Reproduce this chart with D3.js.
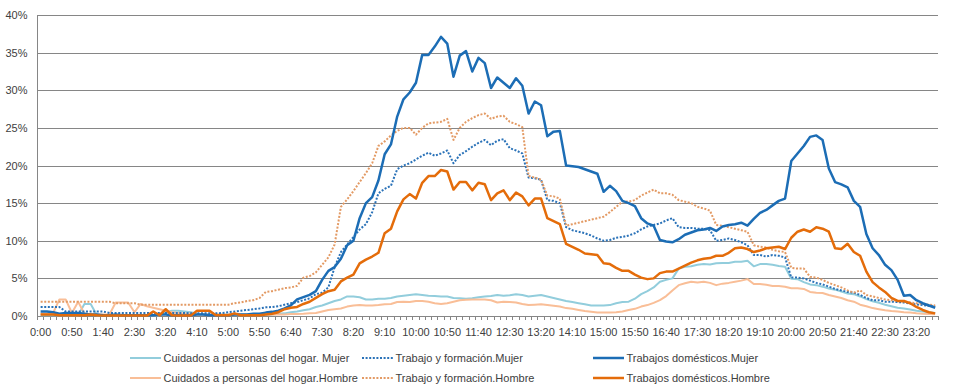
<!DOCTYPE html>
<html><head><meta charset="utf-8">
<script src="https://cdn.jsdelivr.net/npm/d3@7/dist/d3.min.js"></script>
<style>
html,body{margin:0;padding:0;background:#fff;}
svg text{font-family:"Liberation Sans",Arial,sans-serif;fill:#404040;}
</style></head>
<body>
<svg id="c" width="954" height="386"></svg>
<script>
// ---- DATA ----
const categories = d3.range(144).map(i => Math.floor(i/6) + ":" + String((i%6)*10).padStart(2,"0"));
const tickLabels = ["0:00","0:50","1:40","2:30","3:20","4:10","5:00","5:50","6:40","7:30","8:20","9:10","10:00","10:50","11:40","12:30","13:20","14:10","15:00","15:50","16:40","17:30","18:20","19:10","20:00","20:50","21:40","22:30","23:20"];
const yTicks = [0,5,10,15,20,25,30,35,40];

const cuidadosMujer = [
0.1,0.1,0.1,0.1,0.1,0.1,0.1,1.6,1.6,0.1,
0.1,0.1,0.1,0.1,0.1,0.1,0.1,0.1,0.1,0.1,
0.5,0.7,0.7,0.6,0.5,0.3,0.2,0.2,0.2,0.2,
0.15,0.15,0.15,0.15,0.15,0.15,0.15,0.2,0.3,0.35,
0.5,0.6,0.75,0.9,1.2,1.4,1.7,2.0,2.2,2.6,
2.6,2.5,2.2,2.2,2.3,2.3,2.4,2.6,2.7,2.8,
2.9,2.8,2.7,2.65,2.6,2.6,2.4,2.35,2.3,2.35,
2.5,2.6,2.65,2.8,2.7,2.75,2.9,2.8,2.6,2.7,
2.8,2.6,2.4,2.2,2.0,1.85,1.7,1.55,1.4,1.4,
1.4,1.45,1.7,1.85,1.9,2.3,2.9,3.3,3.8,4.55,
4.8,5.0,6.3,6.55,6.6,6.8,6.9,6.85,7.0,7.05,
7.05,7.2,7.2,7.35,6.6,6.9,6.9,6.8,6.65,6.55,
4.95,4.9,4.5,4.2,4.1,3.9,3.65,3.5,3.25,3.0,
2.9,2.6,2.25,1.95,1.75,1.5,1.3,1.1,1.0,0.85,
0.7,0.6,0.5,0.4];

const cuidadosHombre = [
0.3,0.3,0.4,2.2,2.2,0.4,1.9,0.3,0.2,0.2,
0.2,0.2,1.8,1.8,1.8,0.5,1.6,1.3,1.1,0.9,
0.7,0.5,0.4,0.3,0.3,0.2,0.2,0.2,0.2,0.2,
0.2,0.2,0.2,0.2,0.2,0.2,0.2,0.2,0.2,0.2,
0.25,0.27,0.3,0.35,0.4,0.6,0.8,0.9,1.0,1.25,
1.4,1.45,1.4,1.4,1.45,1.55,1.6,1.85,1.9,1.85,
2.0,2.0,1.9,1.7,1.6,1.7,1.9,2.1,2.15,2.2,
2.2,2.2,2.1,1.8,1.9,1.85,1.8,1.6,1.45,1.5,
1.55,1.45,1.35,1.25,1.05,0.95,0.8,0.65,0.55,0.45,
0.45,0.45,0.5,0.6,0.8,0.95,1.25,1.45,1.75,2.1,
2.65,3.4,4.1,4.35,4.55,4.45,4.55,4.4,4.1,4.3,
4.4,4.55,4.7,4.9,4.25,4.25,4.15,4.0,4.0,3.9,
3.7,3.7,3.6,3.2,3.1,3.05,2.8,2.6,2.4,2.1,
1.9,1.5,1.3,1.05,0.9,0.75,0.65,0.6,0.5,0.45,
0.35,0.3,0.27,0.23];

const trabajoMujer = [
1.2,1.2,1.2,1.2,0.6,0.6,0.6,0.6,0.6,0.6,
0.6,0.4,0.4,0.4,0.4,0.4,0.4,0.4,0.4,0.4,
0.4,0.4,0.4,0.4,0.35,0.35,0.35,0.35,0.35,0.4,
0.5,0.6,0.7,0.8,0.9,1.0,1.15,1.2,1.3,1.5,
1.7,1.85,2.1,2.35,2.9,3.1,3.8,6.5,8.5,9.5,
10.5,11.5,12.2,13.8,16.3,16.9,17.3,19.5,20.0,20.3,
20.8,21.3,21.7,21.3,21.6,22.0,20.3,21.4,21.9,22.5,
23.0,23.4,22.7,23.3,23.5,22.3,22.0,21.6,18.4,18.3,
18.1,15.4,15.3,15.0,11.8,11.4,11.2,11.0,10.7,10.3,
10.0,10.1,10.4,10.5,10.7,11.0,11.5,11.9,12.1,12.3,
12.7,13.0,11.8,11.7,11.7,11.6,11.6,11.4,10.0,10.1,
10.3,10.1,9.8,9.4,8.1,8.1,7.9,8.1,8.0,7.8,
5.1,5.1,5.0,4.7,4.4,4.2,3.9,3.6,3.4,3.2,
3.1,2.8,2.4,2.1,2.1,1.9,1.9,1.85,1.8,1.65,
1.55,1.45,1.35,1.25];

const trabajoHombre = [
1.9,1.9,1.9,1.9,1.9,1.9,1.9,1.9,1.9,1.9,
1.9,1.9,1.7,1.7,1.7,1.7,1.5,1.5,1.5,1.5,
1.5,1.5,1.5,1.5,1.5,1.5,1.5,1.5,1.5,1.5,
1.5,1.7,1.8,2.0,2.1,2.4,3.2,3.3,3.5,3.7,
3.8,4.0,5.1,5.3,5.8,6.8,7.8,9.5,14.5,15.5,
16.6,17.8,19.0,20.3,22.6,23.2,24.0,24.6,25.0,25.0,
24.1,25.0,25.6,25.7,25.8,26.2,23.4,25.0,25.8,26.3,
26.7,26.9,26.2,26.5,26.6,25.8,25.5,25.1,18.6,18.4,
18.1,16.0,15.9,15.6,12.0,12.2,12.4,12.6,12.8,13.0,
13.2,13.8,14.5,15.2,15.2,15.4,16.0,16.4,16.8,16.3,
16.3,16.1,15.4,15.2,15.0,14.5,14.3,14.0,12.1,12.0,
11.8,11.6,11.4,11.2,9.4,9.2,9.1,8.8,8.6,8.5,
6.4,6.3,6.3,5.2,5.1,4.8,4.4,4.1,3.8,3.4,
3.1,3.4,2.8,2.6,2.4,2.2,2.1,2.0,1.9,1.8,
1.7,1.6,1.5,1.4];

const domesticosMujer = [
0.6,0.6,0.5,0.3,0.4,0.4,0.4,0.3,0.2,0.2,
0.1,0.1,0.2,0.1,0.1,0.1,0.1,0.1,0.1,0.2,
0.2,0.1,0.1,0.1,0.1,0.2,0.2,0.1,0.1,0.1,
0.1,0.2,0.2,0.2,0.3,0.3,0.45,0.55,0.7,1.0,
1.4,2.2,2.5,2.8,3.3,4.8,6.0,6.5,7.6,9.4,
10.0,13.0,15.0,15.8,18.0,21.5,22.8,26.5,28.8,29.7,
31.0,34.7,34.7,35.8,37.1,36.2,31.8,34.6,35.2,32.5,
34.3,33.6,30.3,31.7,31.0,30.3,31.6,30.6,26.9,28.5,
28.0,23.9,24.5,24.6,20.0,19.9,19.8,19.5,19.2,18.9,
16.5,17.3,16.6,15.3,15.0,14.6,13.0,12.3,12.0,10.1,
9.9,9.8,10.2,10.8,11.1,11.4,11.5,11.7,11.3,11.9,
12.1,12.2,12.4,12.0,12.9,13.7,14.1,14.7,15.3,15.6,
20.6,21.6,22.6,23.8,24.0,23.4,19.6,17.8,17.5,17.1,
15.3,14.5,10.9,9.0,8.1,6.8,6.1,4.8,2.7,2.8,
2.1,1.7,1.4,1.1];

const domesticosHombre = [
0.2,0.2,0.2,0.1,0.1,0.1,0.1,0.1,0.2,0.1,
0.05,0.05,0.05,0.05,0.05,0.05,0.05,0.05,0.6,0.1,
0.9,0.1,0.05,0.05,0.05,0.7,0.7,0.7,0.1,0.1,
0.1,0.35,0.1,0.1,0.1,0.1,0.2,0.3,0.5,0.9,
1.1,1.2,1.6,1.9,2.4,2.9,3.3,3.5,4.6,5.1,
5.5,7.0,7.5,7.9,8.4,11.0,11.6,13.9,15.5,16.2,
15.6,17.7,18.6,18.6,19.4,19.2,16.8,17.8,17.8,16.7,
17.7,17.5,15.4,16.3,16.7,15.4,16.4,15.9,14.7,15.6,
15.6,13.0,12.6,12.2,9.6,9.2,8.8,8.3,8.2,8.1,
7.0,6.9,6.4,6.0,6.0,5.5,5.1,4.9,5.0,5.7,
5.9,5.9,6.3,6.7,7.1,7.4,7.6,7.7,8.0,8.0,
8.4,9.0,9.1,8.9,8.5,8.7,9.0,9.1,9.2,8.9,
10.4,11.2,11.5,11.2,11.8,11.6,11.2,9.0,8.9,9.6,
8.5,8.0,5.9,4.5,3.8,3.2,2.4,2.0,2.0,1.7,
1.2,0.8,0.5,0.35];

const seriesNames = ["Cuidados a personas del hogar. Mujer","Trabajo y formación.Mujer","Trabajos domésticos.Mujer",
                     "Cuidados a personas del hogar.Hombre","Trabajo y formación.Hombre","Trabajos domésticos.Hombre"];
const seriesValues = [cuidadosMujer, trabajoMujer, domesticosMujer, cuidadosHombre, trabajoHombre, domesticosHombre];

// ---- STYLE ----
const styles = [
  {color:"#92cddc", width:2,   dash:null},
  {color:"#2a72b8", width:2,   dash:"2 1.6"},
  {color:"#1c6db5", width:2.5, dash:null},
  {color:"#f9be97", width:2,   dash:null},
  {color:"#e39a64", width:2,   dash:"2 1.6"},
  {color:"#e46c0a", width:2.5, dash:null}
];

const svg = d3.select("#c");
svg.append("rect").attr("width",954).attr("height",386).attr("fill","#fff");

const pL = 37.5, pR = 938.3, pT = 15, pB = 316;
const x = d3.scaleBand().domain(d3.range(categories.length)).range([pL, pR]).padding(0);
const xc = i => x(i) + x.bandwidth()/2;
const y = d3.scaleLinear().domain([0,40]).range([pB, pT]);

// y axis with gridlines
const yAxis = svg.append("g").attr("transform",`translate(${pL},0)`)
  .call(d3.axisLeft(y).tickValues(yTicks).tickSize(-(pR-pL)).tickPadding(10).tickFormat(d => d + "%"));
yAxis.select(".domain").remove();
yAxis.selectAll(".tick line").attr("stroke","#868686").attr("stroke-width",1).attr("shape-rendering","crispEdges");
yAxis.selectAll(".tick text").attr("font-size","11px").attr("font-family","Liberation Sans, Arial, sans-serif").attr("fill","#404040");

// vertical axis line
svg.append("line").attr("x1",pL).attr("x2",pL).attr("y1",pT).attr("y2",pB)
  .attr("stroke","#868686").attr("shape-rendering","crispEdges");

// category boundary ticks
const bounds = d3.range(categories.length + 1).map(i => pL + i * x.bandwidth());
svg.append("g").selectAll("line").data(bounds).join("line")
  .attr("x1",d=>d).attr("x2",d=>d).attr("y1",pB).attr("y2",pB+4)
  .attr("stroke","#868686").attr("stroke-width",1).attr("shape-rendering","crispEdges");

// x labels
const xAxis = svg.append("g").attr("transform",`translate(0,${pB})`)
  .call(d3.axisBottom(x).tickValues(d3.range(0, categories.length, 5).filter(i => tickLabels.includes(categories[i])))
        .tickSize(0).tickPadding(12).tickFormat(i => categories[i]));
xAxis.select(".domain").remove();
xAxis.selectAll(".tick text").attr("font-size","11px").attr("font-family","Liberation Sans, Arial, sans-serif").attr("fill","#404040");

// lines
const line = d3.line().x((d,i) => xc(i)).y(d => y(d)).curve(d3.curveLinear);
const order = [0,3,1,4,2,5];
order.forEach(k => {
  const st = styles[k];
  svg.append("path").datum(seriesValues[k]).attr("d", line)
    .attr("fill","none").attr("stroke",st.color).attr("stroke-width",st.width)
    .attr("stroke-linejoin","round")
    .attr("stroke-dasharray", st.dash);
});

// legend
const legCols = [130, 362, 593], legRows = [358, 378];
const lg = svg.append("g");
seriesNames.forEach((name,k) => {
  const cx = legCols[k % 3], cy = legRows[Math.floor(k/3)];
  const st = styles[k];
  lg.append("line").attr("x1",cx).attr("x2",cx+31).attr("y1",cy).attr("y2",cy)
    .attr("stroke",st.color).attr("stroke-width",st.width).attr("stroke-dasharray",st.dash);
  lg.append("text").attr("x",cx+33.5).attr("y",cy).attr("dy","0.35em")
    .attr("font-size","11px").text(name);
});
</script>
</body></html>
